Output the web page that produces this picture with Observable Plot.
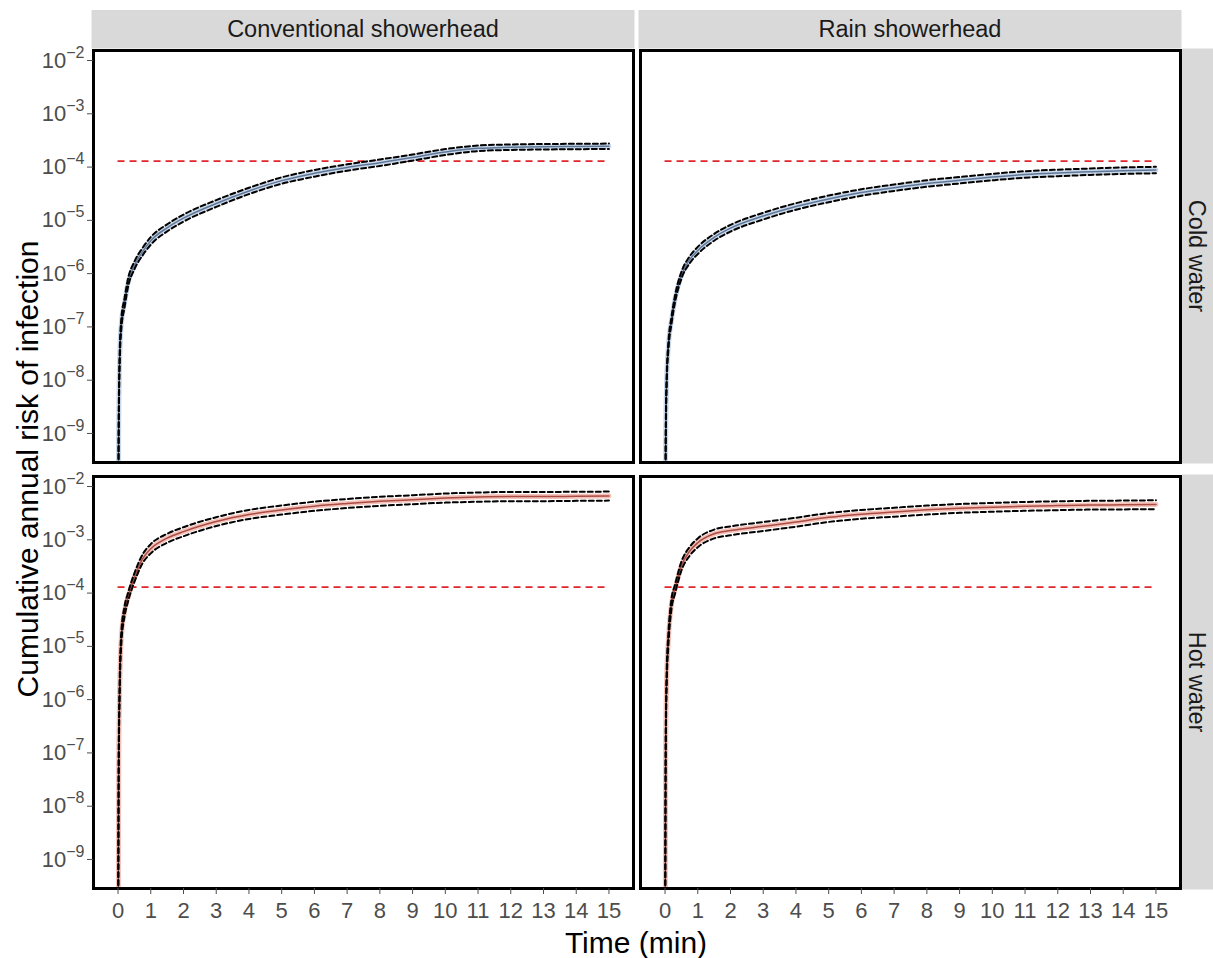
<!DOCTYPE html>
<html>
<head>
<meta charset="utf-8">
<script src="https://cdn.jsdelivr.net/npm/d3@7"></script>
<script src="https://cdn.jsdelivr.net/npm/@observablehq/plot@0.6"></script>
<style>
  html, body { margin: 0; padding: 0; background: white; }
  #chart svg { display: block; }
</style>
</head>
<body>
<div id="chart"></div>
<script>
// ---- Data ----
const showerheads = ["Conventional showerhead", "Rain showerhead"];
const waterTypes = ["Cold water", "Hot water"];

const times = [0, 0.02, 0.05, 0.1, 0.2, 0.3, 0.5, 0.75, 1, 1.5, 2, 3, 4, 5, 6, 7, 8, 9, 10, 11, 12, 13, 14, 15];

const coldConvMid  = [1e-12, 1e-9, 2.0e-8, 8.9e-8, 2.2e-7, 5.0e-7, 1.1e-6, 2.0e-6, 3.2e-6, 5.6e-6, 8.5e-6, 1.6e-5, 2.75e-5, 4.3e-5, 5.9e-5, 7.6e-5, 9.3e-5, 1.17e-4, 1.48e-4, 1.74e-4, 1.82e-4, 1.86e-4, 1.88e-4, 1.9e-4];
const coldConvLow  = [1e-12, 7e-10, 1.5e-8, 7e-8, 1.8e-7, 4.2e-7, 9.3e-7, 1.7e-6, 2.7e-6, 4.8e-6, 7.3e-6, 1.38e-5, 2.4e-5, 3.75e-5, 5.1e-5, 6.6e-5, 8.1e-5, 1.02e-4, 1.3e-4, 1.54e-4, 1.62e-4, 1.65e-4, 1.67e-4, 1.69e-4];
const coldConvHigh = [1e-12, 1.4e-9, 2.6e-8, 1.1e-7, 2.7e-7, 6e-7, 1.3e-6, 2.35e-6, 3.75e-6, 6.5e-6, 9.9e-6, 1.85e-5, 3.15e-5, 4.95e-5, 6.8e-5, 8.7e-5, 1.07e-4, 1.33e-4, 1.68e-4, 1.96e-4, 2.05e-4, 2.09e-4, 2.11e-4, 2.13e-4];

const coldRainMid  = [1e-12, 5e-10, 7.9e-9, 3.2e-8, 1.05e-7, 2.5e-7, 7.2e-7, 1.4e-6, 2.1e-6, 3.7e-6, 5.5e-6, 9.3e-6, 1.41e-5, 1.95e-5, 2.57e-5, 3.16e-5, 3.8e-5, 4.37e-5, 5.0e-5, 5.6e-5, 6.0e-5, 6.3e-5, 6.6e-5, 6.8e-5];
const coldRainLow  = [1e-12, 3.5e-10, 6.5e-9, 2.7e-8, 9e-8, 2.15e-7, 6.2e-7, 1.2e-6, 1.8e-6, 3.2e-6, 4.75e-6, 8e-6, 1.22e-5, 1.69e-5, 2.23e-5, 2.75e-5, 3.3e-5, 3.8e-5, 4.35e-5, 4.87e-5, 5.2e-5, 5.5e-5, 5.75e-5, 5.9e-5];
const coldRainHigh = [1e-12, 7e-10, 9.5e-9, 3.8e-8, 1.22e-7, 2.9e-7, 8.3e-7, 1.62e-6, 2.45e-6, 4.3e-6, 6.35e-6, 1.07e-5, 1.62e-5, 2.25e-5, 2.96e-5, 3.63e-5, 4.37e-5, 5.02e-5, 5.75e-5, 6.45e-5, 6.9e-5, 7.25e-5, 7.6e-5, 7.8e-5];

const hotConvMid  = [1e-12, 5e-8, 1.26e-6, 1.12e-5, 3.55e-5, 6.3e-5, 1.51e-4, 3.4e-4, 5.25e-4, 8.3e-4, 1.1e-3, 1.7e-3, 2.3e-3, 2.8e-3, 3.3e-3, 3.7e-3, 4.07e-3, 4.37e-3, 4.68e-3, 4.9e-3, 5.0e-3, 5.0e-3, 5.05e-3, 5.1e-3];
const hotConvLow  = [1e-12, 3e-8, 9e-7, 8.5e-6, 2.85e-5, 5.2e-5, 1.25e-4, 2.8e-4, 4.3e-4, 6.8e-4, 9e-4, 1.4e-3, 1.9e-3, 2.3e-3, 2.7e-3, 3.05e-3, 3.35e-3, 3.6e-3, 3.85e-3, 4.0e-3, 4.1e-3, 4.1e-3, 4.15e-3, 4.2e-3];
const hotConvHigh = [1e-12, 8e-8, 1.8e-6, 1.45e-5, 4.4e-5, 7.6e-5, 1.82e-4, 4.1e-4, 6.4e-4, 1.0e-3, 1.33e-3, 2.05e-3, 2.8e-3, 3.4e-3, 4.0e-3, 4.5e-3, 4.95e-3, 5.3e-3, 5.7e-3, 5.95e-3, 6.1e-3, 6.1e-3, 6.15e-3, 6.2e-3];

const hotRainMid  = [1e-12, 1e-7, 2e-6, 1e-5, 5e-5, 8.9e-5, 2.5e-4, 4.7e-4, 6.8e-4, 1.0e-3, 1.15e-3, 1.38e-3, 1.66e-3, 2.04e-3, 2.34e-3, 2.57e-3, 2.82e-3, 3.02e-3, 3.16e-3, 3.3e-3, 3.39e-3, 3.47e-3, 3.5e-3, 3.55e-3];
const hotRainLow  = [1e-12, 6e-8, 1.4e-6, 7.5e-6, 4e-5, 7.3e-5, 2.05e-4, 3.85e-4, 5.6e-4, 8.2e-4, 9.4e-4, 1.13e-3, 1.36e-3, 1.67e-3, 1.92e-3, 2.1e-3, 2.3e-3, 2.48e-3, 2.6e-3, 2.7e-3, 2.78e-3, 2.85e-3, 2.87e-3, 2.9e-3];
const hotRainHigh = [1e-12, 1.6e-7, 2.8e-6, 1.3e-5, 6.2e-5, 1.08e-4, 3.0e-4, 5.65e-4, 8.2e-4, 1.2e-3, 1.38e-3, 1.66e-3, 2.0e-3, 2.45e-3, 2.8e-3, 3.08e-3, 3.38e-3, 3.62e-3, 3.8e-3, 3.96e-3, 4.07e-3, 4.16e-3, 4.2e-3, 4.26e-3];

const threshold = 1e-4;
const thresholdSpan = [0, 15];

const xTicks = [0, 1, 2, 3, 4, 5, 6, 7, 8, 9, 10, 11, 12, 13, 14, 15];
const yTicks = [1e-2, 1e-3, 1e-4, 1e-5, 1e-6, 1e-7, 1e-8, 1e-9];

const xTitle = "Time (min)";
const yTitle = "Cumulative annual risk of infection";

// ---- Build long table ----
const panels = [
  {shower: showerheads[0], water: waterTypes[0], mid: coldConvMid, lo: coldConvLow, hi: coldConvHigh},
  {shower: showerheads[1], water: waterTypes[0], mid: coldRainMid, lo: coldRainLow, hi: coldRainHigh},
  {shower: showerheads[0], water: waterTypes[1], mid: hotConvMid, lo: hotConvLow, hi: hotConvHigh},
  {shower: showerheads[1], water: waterTypes[1], mid: hotRainMid, lo: hotRainLow, hi: hotRainHigh}
];
const rows = [];
panels.forEach(p => times.forEach((t, i) => rows.push({shower: p.shower, water: p.water, t, mid: p.mid[i], lo: p.lo[i], hi: p.hi[i]})));
const coldRows = rows.filter(d => d.water === waterTypes[0]);
const hotRows = rows.filter(d => d.water === waterTypes[1]);

const common = {x: "t", fx: "shower", fy: "water", clip: true, curve: "monotone-x"};

const W = 1213, H = 958, ML = 92, MR = 33, MT = 50, MB = 70;

const plot = Plot.plot({
  width: W, height: H,
  marginLeft: ML, marginRight: MR, marginTop: MT, marginBottom: MB,
  style: {fontFamily: "'Liberation Sans', Arial, sans-serif", fontSize: "22px", background: "white", color: "#4d4d4d", overflow: "visible"},
  x: {domain: [-0.75, 15.75]},
  y: {type: "log", domain: [2.2e-10, 1.19e-2]},
  fx: {domain: showerheads, paddingInner: 0.0128, paddingOuter: 0, axis: null},
  fy: {domain: waterTypes, paddingInner: 0.033, paddingOuter: 0, axis: null},
  marks: [
    Plot.ruleY([threshold], {x1: thresholdSpan[0], x2: thresholdSpan[1], stroke: "#e0262b", strokeWidth: 1.6, strokeDasharray: "7,5"}),
    Plot.line(coldRows, {...common, y: "mid", stroke: "#c9d8ea", strokeWidth: 5}),
    Plot.line(hotRows, {...common, y: "mid", stroke: "#f5c2ba", strokeWidth: 5}),
    Plot.line(coldRows, {...common, y: "mid", stroke: "#5f7797", strokeWidth: 1.5}),
    Plot.line(hotRows, {...common, y: "mid", stroke: "#a94c44", strokeWidth: 1.5}),
    Plot.line(rows, {...common, y: "lo", stroke: "black", strokeWidth: 2, strokeDasharray: "5,3"}),
    Plot.line(rows, {...common, y: "hi", stroke: "black", strokeWidth: 2, strokeDasharray: "5,3"}),
    Plot.frame({stroke: "black", strokeWidth: 3}),
    Plot.axisX({ticks: xTicks, tickFormat: d => String(d), tickSize: 6, tickPadding: 8, fontSize: 22, label: null}),
    Plot.axisY({ticks: yTicks, tickFormat: d => String(Math.round(Math.log10(d))), tickSize: 6, tickPadding: 3, fontSize: 22, label: null, dy: 6})
  ]
});

document.getElementById("chart").appendChild(plot);

// ---- Post-processing: font sizes, superscript tick labels, strips, axis titles ----
const svg = d3.select(plot);
svg.selectAll('g[aria-label="x-axis tick label"], g[aria-label="y-axis tick label"]')
  .attr("font-size", "22px").style("font-size", "22px");
svg.selectAll('g[aria-label="x-axis tick label"] text, g[aria-label="y-axis tick label"] text')
  .attr("font-size", "22px").style("font-size", "22px");
svg.selectAll('g[aria-label="y-axis tick label"] text').each(function() {
  const e = this.textContent.trim();
  const n = Math.abs(parseInt(e, 10));
  const sel = d3.select(this);
  sel.text(null);
  sel.append("tspan").text("10");
  sel.append("tspan").attr("dy", "-10").style("font-size", "16px").text("\u2212" + n);
});

const fx = plot.scale("fx"), fy = plot.scale("fy");
const strips = svg.insert("g", ":first-child").attr("aria-label", "strips");
showerheads.forEach(k => {
  const x0 = fx.apply(k), w = fx.bandwidth;
  strips.append("rect").attr("x", x0 - 1.5).attr("y", 10).attr("width", w + 3).attr("height", MT - 11.5).attr("fill", "#d9d9d9");
  strips.append("text").attr("x", x0 + w / 2).attr("y", 10 + (MT - 11.5) / 2).attr("dy", "0.35em")
    .attr("text-anchor", "middle").style("font-size", "23.5px").attr("fill", "#1a1a1a").text(k);
});
waterTypes.forEach(k => {
  const y0 = fy.apply(k), h = fy.bandwidth;
  const x0 = W - MR + 2;
  strips.append("rect").attr("x", x0).attr("y", y0 - 1.5).attr("width", W - x0).attr("height", h + 3).attr("fill", "#d9d9d9");
  strips.append("text").attr("transform", `translate(${x0 + (W - x0) / 2},${y0 + h / 2}) rotate(90)`).attr("dy", "0.35em")
    .attr("text-anchor", "middle").style("font-size", "23.5px").attr("fill", "#1a1a1a").text(k);
});

svg.append("text").attr("x", ML + (W - ML - MR) / 2).attr("y", 953)
  .attr("text-anchor", "middle").style("font-size", "30px").attr("fill", "black").text(xTitle);
svg.append("text").attr("transform", `translate(38,${MT + (H - MT - MB) / 2}) rotate(-90)`)
  .attr("text-anchor", "middle").style("font-size", "30px").attr("fill", "black").text(yTitle);
</script>
</body>
</html>
